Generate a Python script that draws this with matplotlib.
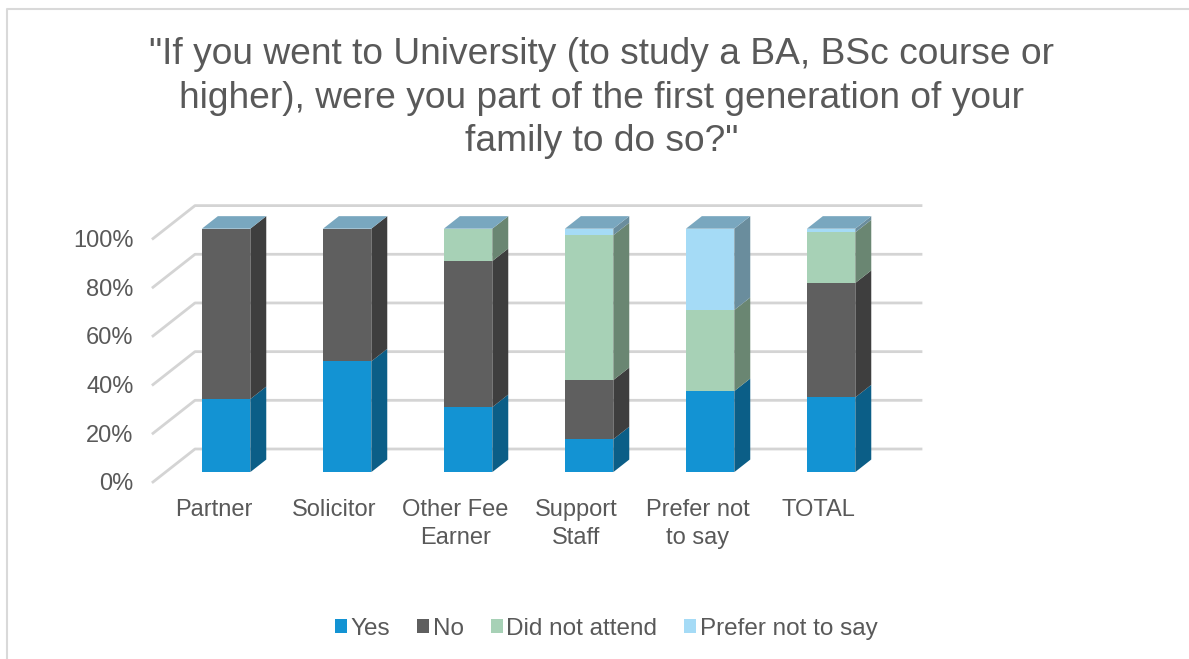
import matplotlib.pyplot as plt
from matplotlib.patches import Polygon, Patch
from matplotlib.lines import Line2D
import numpy as np

plt.rcParams['font.family'] = ['Liberation Sans', 'DejaVu Sans']

# Data (percent of each group)
categories = ['Partner', 'Solicitor', 'Other Fee\nEarner', 'Support\nStaff',
              'Prefer not\nto say', 'TOTAL']
series_names = ['Yes', 'No', 'Did not attend', 'Prefer not to say']
yes = [30.0, 45.5, 26.7, 13.5, 33.3, 30.7]
no = [70.0, 54.5, 60.0, 24.3, 0.0, 47.0]
did_not_attend = [0.0, 0.0, 13.3, 59.5, 33.3, 20.8]
prefer_not = [0.0, 0.0, 0.0, 2.7, 33.4, 1.5]
yticks = [0, 20, 40, 60, 80, 100]

front_colors = ['#1393D3', '#5F5F5F', '#A7D1B6', '#A5DBF6']
side_colors = ['#0B5E87', '#3E3E3E', '#6A8672', '#6A8D9D']
top_color = '#79A7BF'
grid_color = '#D4D4D4'
text_color = '#595959'

W, H = 1189, 659
fig = plt.figure(figsize=(W / 100, H / 100), dpi=100)
# axes = the front plane of the floor / wall, in pixels
ax = fig.add_axes([153 / W, 177 / H, 726 / W, 243.4 / H])
ax.set_xlim(-0.5, 5.5)
ax.set_ylim(0, 100)
for sp in ax.spines.values():
    sp.set_visible(False)

# oblique depth of the whole wall and of the bars, in data units
depth_dx = 42 / 121.0
depth_dy = 33 / 2.434
bar_t0 = 0.30       # bar front as fraction of depth
bar_tb = 0.38       # bar thickness as fraction of depth
bar_w = 0.40

# gridlines on the back wall + left side wall
for v in yticks:
    ax.add_line(Line2D([-0.5, -0.5 + depth_dx, 5.5 + depth_dx],
                       [v, v + depth_dy, v + depth_dy],
                       color=grid_color, lw=2, clip_on=False, zorder=1))

x = np.arange(len(categories))
xf = x + bar_t0 * depth_dx
yoff = bar_t0 * depth_dy
sdx = bar_tb * depth_dx
sdy = bar_tb * depth_dy

series = [yes, no, did_not_attend, prefer_not]
bottom = np.zeros(len(categories))
for vals, fc, sc in zip(series, front_colors, side_colors):
    vals = np.array(vals)
    ax.bar(xf, vals, bar_w, bottom=bottom + yoff, color=fc,
           edgecolor='none', clip_on=False, zorder=3)
    for i in range(len(categories)):
        if vals[i] <= 0:
            continue
        xr = xf[i] + bar_w / 2
        b = bottom[i] + yoff
        t = b + vals[i]
        ax.add_patch(Polygon([(xr, b), (xr + sdx, b + sdy),
                              (xr + sdx, t + sdy), (xr, t)],
                             closed=True, facecolor=sc, edgecolor='none',
                             clip_on=False, zorder=3))
    bottom = bottom + vals

# top faces
for i in range(len(categories)):
    xl = xf[i] - bar_w / 2
    xr = xf[i] + bar_w / 2
    t = bottom[i] + yoff
    ax.add_patch(Polygon([(xl, t), (xr, t), (xr + sdx, t + sdy),
                          (xl + sdx, t + sdy)],
                         closed=True, facecolor=top_color, edgecolor='none',
                         clip_on=False, zorder=3))

ax.set_yticks(yticks)
ax.set_yticklabels([f'{v}%' for v in yticks])
ax.set_xticks(x)
ax.set_xticklabels(categories, linespacing=1.35)
ax.tick_params(axis='y', length=0, pad=14, labelsize=17, labelcolor=text_color)
ax.tick_params(axis='x', length=0, pad=12.5, labelsize=17, labelcolor=text_color)

fig.text(0.506, 1 - 37 / H,
         '"If you went to University (to study a BA, BSc course or\n'
         'higher), were you part of the first generation of your\n'
         'family to do so?"',
         ha='center', va='top', fontsize=26.7, color=text_color,
         linespacing=1.32)

handles = [Patch(facecolor=c, edgecolor='none') for c in front_colors]
fig.legend(handles, series_names, loc='center', bbox_to_anchor=(0.51, 30 / H),
           ncol=4, frameon=False, fontsize=17.5, labelcolor=text_color,
           handlelength=0.5, handleheight=0.5, handletextpad=0.15,
           columnspacing=1.1)

# chart area border
fig.add_artist(Line2D([6.5 / W, 6.5 / W, 1.0], [0.0, 1 - 9 / H, 1 - 9 / H],
                      transform=fig.transFigure, color='#D9D9D9', lw=1.5))

fig.savefig('out.png', dpi=100)
